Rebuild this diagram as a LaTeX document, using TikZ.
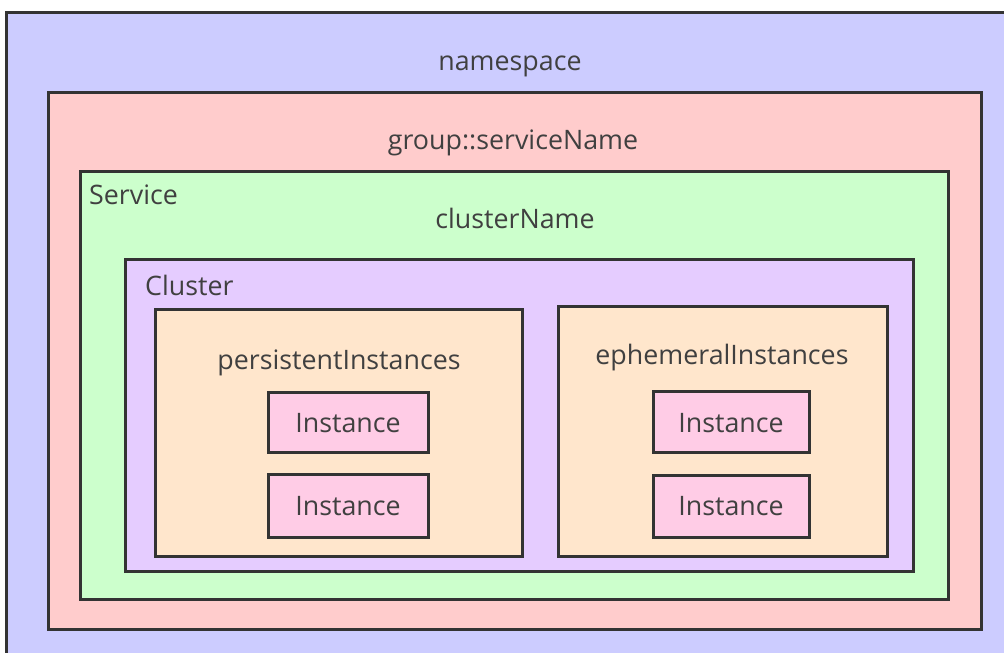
\documentclass[tikz,border=0pt]{standalone}
\usepackage{fontspec}
\setmainfont{Open Sans}
\definecolor{nsblue}{HTML}{CCCCFF}
\definecolor{grpred}{HTML}{FFCCCC}
\definecolor{svcgreen}{HTML}{CCFFCC}
\definecolor{clpurple}{HTML}{E5CCFF}
\definecolor{insorange}{HTML}{FFE6CC}
\definecolor{inspink}{HTML}{FFCCE6}
\definecolor{edge}{HTML}{333333}
\definecolor{txt}{HTML}{404040}
\tikzset{
  box/.style={draw=edge, line width=3pt, anchor=north west, inner sep=0pt, outer sep=0pt},
  lbl/.style={text=txt, font=\fontsize{26.8}{32}\selectfont, inner sep=0pt, anchor=base},
}
\begin{document}
\begin{tikzpicture}[x=1pt,y=-1pt]
\useasboundingbox (0,0) rectangle (1004,653);
\clip (0,0) rectangle (1004,653);
\fill[white] (0,0) rectangle (1004,653);
\node[box, fill=nsblue, minimum width=1010pt, minimum height=660pt] (ns) at (6,12) {};
\node[box, fill=grpred, minimum width=933pt, minimum height=537pt] (grp) at (48,92) {};
\node[box, fill=svcgreen, minimum width=868pt, minimum height=428pt] (svc) at (80,171) {};
\node[box, fill=clpurple, minimum width=788pt, minimum height=312pt] (cl) at (125,259) {};
\node[box, fill=insorange, minimum width=367pt, minimum height=247pt] (pers) at (155,309) {};
\node[box, fill=insorange, minimum width=329pt, minimum height=250pt] (eph) at (558,306) {};
\node[box, fill=inspink, minimum width=160pt, minimum height=60pt] (p1) at (268,392) {};
\node[box, fill=inspink, minimum width=160pt, minimum height=63pt] (p2) at (268,474) {};
\node[box, fill=inspink, minimum width=156pt, minimum height=61pt] (e1) at (653,391) {};
\node[box, fill=inspink, minimum width=156pt, minimum height=62pt] (e2) at (653,475) {};

\node[lbl] (tns) at (510,70) {namespace};
\node[lbl] (tgrp) at (513,149) {group::serviceName};
\node[lbl] (tcn) at (515,228) {clusterName};
\node[lbl, anchor=base west] (tsvc) at (89,204) {Service};
\node[lbl, anchor=base west] (tcl) at (145,295) {Cluster};
\node[lbl] (tpers) at (339,369) {persistentInstances};
\node[lbl] (teph) at (722,364) {ephemeralInstances};
\node[lbl] (tp1) at (348,432) {Instance};
\node[lbl] (tp2) at (348,515) {Instance};
\node[lbl] (te1) at (731,432) {Instance};
\node[lbl] (te2) at (731,515) {Instance};
\end{tikzpicture}
\end{document}
